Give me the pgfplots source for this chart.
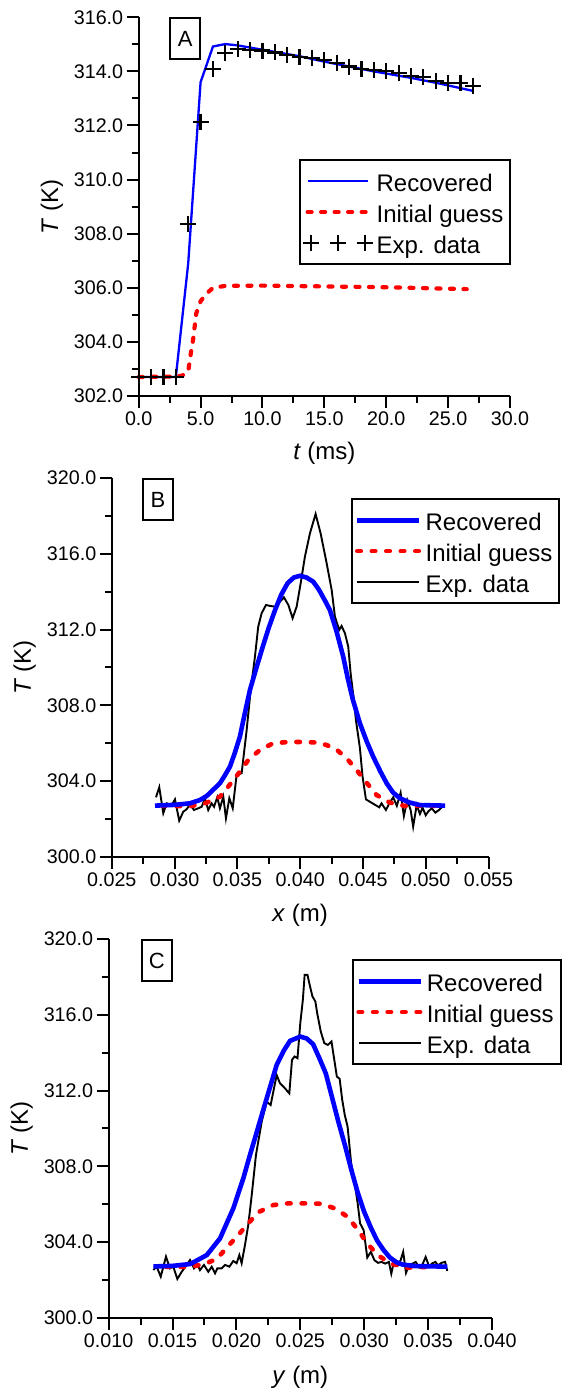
\documentclass[border=0pt]{standalone}
\usepackage{pgfplots}
\pgfplotsset{compat=1.18}
\usepackage{fontspec}
\setmainfont{Liberation Sans}
\definecolor{cblue}{RGB}{0,0,255}
\definecolor{cred}{RGB}{255,0,0}

\pgfplotsset{
  panel/.style={
    scale only axis,
    axis x line*=bottom, axis y line*=left,
    axis line style={line width=2pt},
    every tick/.style={black, line width=2pt},
    tick align=outside,
    major tick length=12pt, minor tick length=7pt,
    minor x tick num=1, minor y tick num=1,
    tick label style={font=\fontsize{19.7}{22}\selectfont},
    label style={font=\fontsize{24}{28}\selectfont},
    /pgf/number format/assume math mode=true,
    yticklabel style={/pgf/number format/.cd, fixed, fixed zerofill, precision=1, 1000 sep={}},
    scaled ticks=false,
    clip=false,
    legend cell align=left,
    legend style={draw=black, line width=2pt, font=\fontsize{24}{28}\selectfont,
      anchor=north west, inner xsep=3pt, inner ysep=6pt,
      nodes={inner xsep=4pt, inner ysep=1.85pt, text height=24pt, text depth=3pt}},
    ylabel={\textit{T} (K)},
  },
  limg/.style={legend image code/.code={\draw[##1] (0pt,0pt) -- (#1,0pt);}},
  mimg/.style={legend image code/.code={\draw[##1] plot coordinates {(3pt,0pt) (30pt,0pt) (57pt,0pt)};}},
}
\tikzset{
  tag/.style={draw, line width=1.8pt, minimum width=30pt, minimum height=41pt,
    inner sep=0pt, font=\fontsize{22}{24}\selectfont},
}

\begin{document}
\begin{tikzpicture}
\useasboundingbox (0pt,0pt) rectangle (562pt,1388pt);

% ---------------- A ----------------
\begin{axis}[panel, at={(138.7pt,992pt)}, anchor=south west,
  width=371.3pt, height=378.7pt,
  xmin=0, xmax=30, ymin=302, ymax=316,
  xtick={0,5,...,30}, ytick={302,304,...,316},
  xticklabel style={/pgf/number format/.cd, fixed, fixed zerofill, precision=1},
  xlabel={\textit{t} (ms)},
  xlabel style={at={(axis description cs:0.5,-0.1505)}, anchor=center},
  ylabel style={at={(axis description cs:-0.234,0.5)}, anchor=center},
  legend style={at={(axis description cs:0.4307,0.6258)}},
]
\addplot[cblue, line width=2.3pt, limg=60pt]
  coordinates {(0,302.7) (1,302.7) (2,302.7) (3,302.7) (4,306.9) (5,313.6)
  (6,314.92) (7,315.01) (8,314.96) (9,314.88) (10,314.8) (11,314.72) (12,314.64)
  (13,314.56) (14,314.46) (15,314.36) (16,314.27) (17,314.18) (18,314.09)
  (19,314.0) (20,313.92) (21,313.84) (22,313.76) (23,313.67) (24,313.58)
  (25,313.48) (26,313.38) (27,313.28)};
\addlegendentry{Recovered}
\addplot[cred, line width=4.2pt, line cap=round, dash pattern=on 4pt off 9.5pt, limg=60pt]
  coordinates {(0,302.7) (3,302.72) (3.5,302.75) (4,302.9) (4.15,303.4)
  (4.4,304.1) (4.65,305.05) (5,305.5) (5.4,305.75) (6,306.0) (7,306.07)
  (10,306.08) (15,306.05) (20,306.02) (26.5,305.95)};
\addlegendentry{Initial guess}
\addplot[black, only marks, mark=+, mark size=8pt, line width=2.2pt, mimg]
  coordinates {(0,302.7) (1,302.7) (2,302.7) (3,302.7) (4,308.36) (5,312.14)
  (6,314.09) (7,314.67) (8,314.82) (9,314.79) (10,314.77) (11,314.7) (12,314.6)
  (13,314.52) (14,314.48) (15,314.42) (16,314.3) (17,314.18) (18,314.08)
  (19,314.05) (20,314.02) (21,313.93) (22,313.83) (23,313.78) (24,313.65)
  (25,313.58) (26,313.56) (27,313.46)};
\addlegendentry{Exp. data}
\node[tag] at (axis description cs:0.125,0.944) {A};
\end{axis}

% ---------------- B ----------------
\begin{axis}[panel, at={(111.8pt,531pt)}, anchor=south west,
  width=376.7pt, height=379pt,
  xmin=0.025, xmax=0.055, ymin=300, ymax=320,
  xtick={0.025,0.030,0.035,0.040,0.045,0.050,0.055}, ytick={300,304,...,320},
  xticklabel style={/pgf/number format/.cd, fixed, fixed zerofill, precision=3},
  xlabel={\textit{x} (m)},
  xlabel style={at={(axis description cs:0.5,-0.153)}, anchor=center},
  ylabel style={at={(axis description cs:-0.231,0.5)}, anchor=center},
  legend style={at={(axis description cs:0.635,0.947)}},
  reverse legend,
]
\addplot[black, line width=1.9pt, limg=62pt]
  coordinates {(0.02852,303.15) (0.02878,303.68) (0.0291,302.31) (0.02937,302.83)
  (0.02977,302.74) (0.03003,303.04) (0.03037,301.92) (0.03069,302.39)
  (0.03096,302.52) (0.03123,302.78) (0.03154,302.48) (0.03189,302.57)
  (0.03216,302.65) (0.03242,303.1) (0.03268,302.48) (0.03295,302.83)
  (0.03314,302.65) (0.0334,303.15) (0.03361,302.57) (0.03388,303.18)
  (0.03409,302.04) (0.03436,303.1) (0.03463,302.57) (0.03494,304.33)
  (0.03534,304.42) (0.03574,306.7) (0.03606,308.81) (0.0364,310.57)
  (0.03666,312.15) (0.03693,312.86) (0.03728,313.3) (0.0376,313.25)
  (0.038,313.21) (0.03839,313.47) (0.03871,313.7) (0.03906,313.3)
  (0.0394,312.6) (0.03972,313.21) (0.04004,314.44) (0.04038,315.85)
  (0.04078,317.08) (0.04123,318.1) (0.04163,317.08) (0.04211,315.5)
  (0.04251,314.09) (0.04277,312.68) (0.04311,311.98) (0.0433,312.19)
  (0.04357,311.8) (0.04383,311.1) (0.04402,309.69) (0.04428,308.28)
  (0.04444,307.23) (0.04476,305.74) (0.04497,304.24) (0.04524,303.04)
  (0.04577,302.83) (0.0463,302.62) (0.04648,302.83) (0.04683,302.48)
  (0.0471,302.83) (0.04741,303.15) (0.0477,302.7) (0.048,303.39)
  (0.04826,302.16) (0.04853,303.0) (0.0488,302.48) (0.049,301.6)
  (0.04928,302.74) (0.04954,302.27) (0.04975,302.6) (0.05,302.2)
  (0.0502,302.4) (0.05048,302.57) (0.05077,302.34) (0.05106,302.48)
  (0.05134,302.66)};
\addlegendentry{Exp. data}
\addplot[cred, line width=4.6pt, line cap=round, dash pattern=on 3.5pt off 11pt, limg=62pt]
  coordinates {(0.0290,302.7) (0.0305,302.68) (0.03123,302.68) (0.03243,302.83)
  (0.03361,303.18) (0.03427,303.71) (0.0352,304.5) (0.03587,305.12)
  (0.0368,305.65) (0.03784,306.0) (0.03905,306.07) (0.04038,306.07)
  (0.04158,306.03) (0.04277,305.74) (0.0437,305.21) (0.0445,304.59)
  (0.04529,303.92) (0.04609,303.27) (0.04715,302.87) (0.04834,302.69)
  (0.0510,302.7)};
\addlegendentry{Initial guess}
\addplot[cblue, line width=4.6pt, limg=62pt]
  coordinates {(0.02844,302.71) (0.0300,302.75) (0.0312,302.83) (0.0320,303.0)
  (0.03256,303.22) (0.0330,303.5) (0.03361,303.89) (0.0340,304.3)
  (0.03441,304.77) (0.0348,305.5) (0.0352,306.35) (0.0356,307.6)
  (0.0360,308.81) (0.0365,309.95) (0.0370,311.05) (0.0375,312.1)
  (0.0380,313.03) (0.0385,313.85) (0.0390,314.45) (0.0395,314.75)
  (0.0400,314.84) (0.0405,314.75) (0.04104,314.53) (0.0415,314.1)
  (0.0420,313.5) (0.04237,313.03) (0.0429,311.9) (0.04343,310.57)
  (0.0438,309.4) (0.0442,308.3) (0.04476,307.05) (0.0453,306.1)
  (0.04582,305.29) (0.0464,304.5) (0.04689,303.89) (0.0474,303.4)
  (0.04795,303.1) (0.0487,302.88) (0.04954,302.74) (0.05154,302.71)};
\addlegendentry{Recovered}
\node[tag] at (axis description cs:0.1226,0.943) {B};
\end{axis}

% ---------------- C ----------------
\begin{axis}[panel, at={(108.6pt,70pt)}, anchor=south west,
  width=383.4pt, height=379pt,
  xmin=0.010, xmax=0.040, ymin=300, ymax=320,
  xtick={0.010,0.015,0.020,0.025,0.030,0.035,0.040}, ytick={300,304,...,320},
  xticklabel style={/pgf/number format/.cd, fixed, fixed zerofill, precision=3},
  xlabel={\textit{y} (m)},
  xlabel style={at={(axis description cs:0.5,-0.156)}, anchor=center},
  ylabel style={at={(axis description cs:-0.227,0.5)}, anchor=center},
  legend style={at={(axis description cs:0.6356,0.947)}},
  reverse legend,
]
\addplot[black, line width=1.9pt, limg=62pt]
  coordinates {(0.0135,302.53) (0.01376,302.71) (0.01408,302.18) (0.01449,303.24)
  (0.0148,302.62) (0.01506,302.71) (0.01538,302.06) (0.01572,302.44)
  (0.01611,302.8) (0.01637,303.06) (0.01668,302.62) (0.01694,302.83)
  (0.01715,302.53) (0.01746,302.8) (0.0178,302.44) (0.01807,302.71)
  (0.01833,302.36) (0.01851,302.62) (0.01885,302.62) (0.01911,302.8)
  (0.01945,302.71) (0.01976,303.01) (0.02002,302.89) (0.02023,303.32)
  (0.02041,302.89) (0.02067,303.85) (0.02093,304.91) (0.0212,306.49)
  (0.02153,308.6) (0.02198,310.36) (0.02237,311.41) (0.02268,311.24)
  (0.02315,312.82) (0.0234,312.4) (0.0238,312.12) (0.02414,311.85)
  (0.02435,313.62) (0.02455,313.8) (0.02478,313.71) (0.025,315.56)
  (0.0252,316.79) (0.02534,318.11) (0.02556,318.11) (0.02576,317.5)
  (0.02595,316.97) (0.02618,316.7) (0.02632,316.09) (0.0266,315.12)
  (0.02688,314.5) (0.02716,314.41) (0.02744,314.59) (0.02764,313.71)
  (0.02786,312.74) (0.02808,312.62) (0.02828,311.51) (0.02848,310.71)
  (0.0287,310.1) (0.02898,308.16) (0.02926,307.1) (0.02949,306.04)
  (0.02968,304.99) (0.02996,304.63) (0.03024,303.19) (0.03052,303.49)
  (0.0308,303.05) (0.03108,302.91) (0.03136,302.96) (0.03164,302.87)
  (0.03193,302.96) (0.03212,302.34) (0.03235,303.05) (0.03263,302.78)
  (0.03285,303.05) (0.03305,303.49) (0.03327,302.38) (0.03355,302.84)
  (0.0338,302.87) (0.03403,302.96) (0.03431,302.66) (0.03453,302.78)
  (0.03481,303.22) (0.03509,302.7) (0.03529,302.87) (0.03557,302.96)
  (0.03577,302.78) (0.03605,302.91) (0.03633,302.96) (0.0365,302.48)};
\addlegendentry{Exp. data}
\addplot[cred, line width=4.6pt, line cap=round, dash pattern=on 3.5pt off 11pt, limg=62pt]
  coordinates {(0.0145,302.7) (0.01637,302.7) (0.01741,302.83) (0.01846,303.11)
  (0.01937,303.81) (0.02015,304.38) (0.02093,305.0) (0.02171,305.58)
  (0.02289,305.96) (0.02406,306.05) (0.0254,306.05) (0.02658,306.03)
  (0.02772,305.78) (0.0287,305.34) (0.02954,304.63) (0.03024,303.93)
  (0.03108,303.31) (0.03207,302.87) (0.03333,302.66) (0.0352,302.7)};
\addlegendentry{Initial guess}
\addplot[cblue, line width=4.6pt, limg=62pt]
  coordinates {(0.0135,302.72) (0.0150,302.75) (0.0164,302.85) (0.01768,303.32)
  (0.01872,304.2) (0.01976,305.79) (0.02054,307.37) (0.02106,308.6)
  (0.0215,309.6) (0.0220,310.75) (0.02237,311.59) (0.02315,313.35)
  (0.0237,314.1) (0.02419,314.62) (0.0250,314.85) (0.0255,314.75)
  (0.026,314.45) (0.0265,313.7) (0.027,312.9) (0.0275,311.6) (0.028,310.3)
  (0.0285,309.1) (0.029,307.8) (0.0295,306.6) (0.030,305.6) (0.0305,304.8)
  (0.031,304.1) (0.0315,303.6) (0.032,303.2) (0.0325,302.95) (0.033,302.82)
  (0.034,302.74) (0.0365,302.71)};
\addlegendentry{Recovered}
\node[tag] at (axis description cs:0.126,0.943) {C};
\end{axis}
\end{tikzpicture}
\end{document}
